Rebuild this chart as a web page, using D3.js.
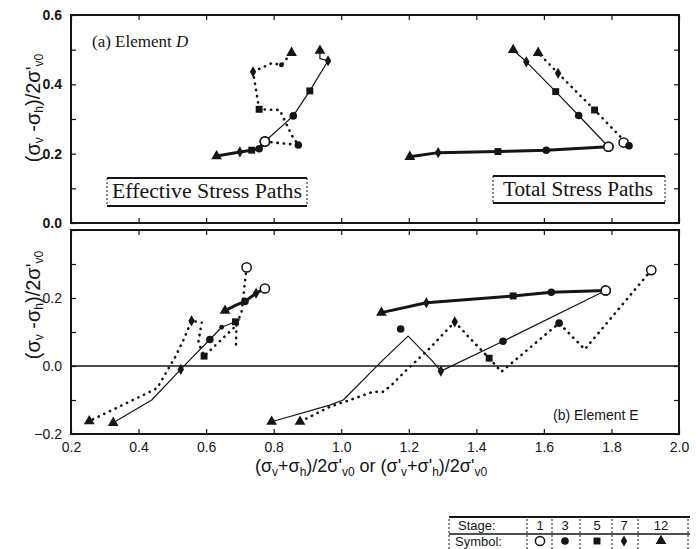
<!DOCTYPE html>
<html>
<head>
<meta charset="utf-8">
<script src="https://cdn.jsdelivr.net/npm/d3@7"></script>
<style>
  body { margin: 0; background: #fff; }
  svg text { fill: #151515; }
</style>
</head>
<body>
<div id="chart"></div>
<script>
// tick values and labels
var xTickLabels = [0.2, 0.4, 0.6, 0.8, 1.0, 1.2, 1.4, 1.6, 1.8, 2.0];
var topYLabels = [0.0, 0.2, 0.4, 0.6];
var botYLabels = [-0.2, 0.0, 0.2];
var legendStages = ["1", "3", "5", "7", "12"];
var legendSymbols = ["o", "c", "s", "d", "t"];

// (a) Element D - effective stress paths  [x, y, symbol]
var aEffThick = [[0.774, 0.235, "o"], [0.757, 0.214, "c"], [0.735, 0.210, "s"], [0.700, 0.205, "d"], [0.631, 0.193, "t"]];
var aEffThin = [[0.774, 0.235, "o"], [0.858, 0.309, "c"], [0.907, 0.381, "s"], [0.961, 0.468, "d"], [0.937, 0.474, null], [0.937, 0.497, "t"]];
var aEffDot = [[0.774, 0.235, "o"], [0.873, 0.225, "c"], [0.853, 0.254, null], [0.818, 0.326, null], [0.757, 0.328, "s"],
  [0.739, 0.436, "d"], [0.794, 0.461, null], [0.823, 0.456, "p"], [0.853, 0.491, "t"]];
// (a) Element D - total stress paths
var aTotThick = [[1.791, 0.220, "o"], [1.607, 0.210, "c"], [1.464, 0.206, "s"], [1.287, 0.203, "d"], [1.203, 0.191, "t"]];
var aTotThin = [[1.791, 0.220, "o"], [1.703, 0.310, "c"], [1.635, 0.379, "s"], [1.548, 0.465, "d"], [1.509, 0.499, "t"]];
var aTotDot = [[1.836, 0.232, "o"], [1.852, 0.223, "c"], [1.750, 0.326, "s"], [1.642, 0.432, "d"], [1.583, 0.491, "t"]];

// (b) Element E - effective stress paths
var bEffThick = [[0.774, 0.228, "o"], [0.748, 0.214, "d"], [0.715, 0.190, "c"], [0.690, 0.180, null], [0.656, 0.163, "t"]];
var bEffThin = [[0.700, 0.136, null], [0.687, 0.130, "s"], [0.646, 0.114, "p"], [0.611, 0.078, "c"], [0.552, 0.018, null],
  [0.525, -0.010, "d"], [0.439, -0.100, null], [0.325, -0.167, "t"]];
var bEffDot = [[0.720, 0.290, "o"], [0.705, 0.160, null], [0.690, 0.120, null], [0.594, 0.029, "s"], [0.577, 0.070, null],
  [0.587, 0.128, null], [0.557, 0.133, "d"], [0.530, 0.070, null], [0.508, 0.026, null], [0.455, -0.065, null],
  [0.425, -0.080, null], [0.254, -0.162, "t"]];
var bEffDot2 = [[0.690, 0.120, null], [0.688, 0.050, null]];
// (b) Element E - total stress paths
var bTotThick = [[1.783, 0.222, "o"], [1.622, 0.217, "c"], [1.509, 0.206, "s"], [1.252, 0.186, "d"], [1.119, 0.157, "t"]];
var bTotThin = [[1.783, 0.222, "o"], [1.479, 0.073, "c"], [1.295, -0.015, "d"], [1.267, 0.018, null], [1.198, 0.088, null],
  [1.124, 0.018, null], [1.006, -0.100, null], [0.966, -0.115, null], [0.794, -0.164, "t"]];
var bTotDot = [[1.918, 0.282, "o"], [1.721, 0.049, null], [1.645, 0.126, "c"], [1.474, -0.017, null], [1.438, 0.023, "s"],
  [1.386, 0.076, null], [1.336, 0.130, "d"], [1.262, 0.052, null], [1.188, -0.017, null], [1.149, -0.056, null],
  [1.124, -0.076, null], [1.094, -0.076, null], [1.040, -0.095, null], [0.966, -0.120, null], [0.878, -0.164, "t"]];
var bLoose = [[1.176, 0.109, "c"]];

var width = 696,
    height = 549;

var svg = d3.select("#chart").append("svg")
    .attr("width", width)
    .attr("height", height);

var x = d3.scaleLinear().domain([0.2, 2.0]).range([71, 679]);
var yTop = d3.scaleLinear().domain([0, 0.6]).range([223, 15]);
var yBot = d3.scaleLinear().domain([-0.2, 0.4]).range([434, 230]);

var ink = "#151515";
var sans = "'Liberation Sans', Arial, sans-serif";
var serif = "'Liberation Serif', 'Times New Roman', serif";

var xMinor = d3.range(0.2, 2.01, 0.2);
var yTopMinor = d3.range(0, 0.61, 0.1);
var yBotMinor = d3.range(-0.2, 0.41, 0.1);

function isLabel(v, list) {
    return list.some(function (d) { return Math.abs(d - v) < 1e-6; });
}

function frame(y, yMinor, yLabels, bold, showX) {
    var g = svg.append("g");
    var r = y.range();
    // inward ticks on all four sides
    g.append("g").attr("transform", "translate(" + x.range()[0] + ",0)")
        .call(d3.axisLeft(y).tickValues(yMinor).tickSize(-5).tickPadding(9)
            .tickFormat(function (d) { return isLabel(d, yLabels) ? d3.format(".1f")(d) : ""; }));
    g.append("g").attr("transform", "translate(" + x.range()[1] + ",0)")
        .call(d3.axisRight(y).tickValues(yMinor).tickSize(-5).tickFormat(""));
    g.append("g").attr("transform", "translate(0," + r[1] + ")")
        .call(d3.axisTop(x).tickValues(xMinor).tickSize(-5).tickFormat(""));
    g.append("g").attr("transform", "translate(0," + r[0] + ")")
        .call(d3.axisBottom(x).tickValues(showX ? xTickLabels : xMinor).tickSize(-5).tickPadding(8)
            .tickFormat(showX ? d3.format(".1f") : ""));
    g.selectAll(".domain").remove();
    g.selectAll(".tick line").attr("stroke", ink).attr("stroke-width", 1.2);
    g.selectAll(".tick text").attr("fill", ink)
        .style("font-family", sans)
        .style("font-size", "14px")
        .style("font-weight", bold ? "bold" : "normal");
    g.append("rect")
        .attr("x", x.range()[0]).attr("y", r[1])
        .attr("width", x.range()[1] - x.range()[0])
        .attr("height", r[0] - r[1])
        .attr("fill", "none").attr("stroke", ink).attr("stroke-width", 2);
    return g;
}

frame(yTop, yTopMinor, topYLabels, true, false);
frame(yBot, yBotMinor, botYLabels, false, true);

// zero line in panel (b)
svg.append("line")
    .attr("x1", x.range()[0]).attr("x2", x.range()[1])
    .attr("y1", yBot(0)).attr("y2", yBot(0))
    .attr("stroke", ink).attr("stroke-width", 1.6);

var styles = {
    thick: { w: 3, dash: null, cap: "round" },
    thin: { w: 1.2, dash: null, cap: "round" },
    dot: { w: 2.6, dash: "0.3,6", cap: "round" }
};

var series = [
    { pts: aEffThick, y: yTop, s: "thick" }, { pts: aEffThin, y: yTop, s: "thin" }, { pts: aEffDot, y: yTop, s: "dot" },
    { pts: aTotThick, y: yTop, s: "thick" }, { pts: aTotThin, y: yTop, s: "thin" }, { pts: aTotDot, y: yTop, s: "dot" },
    { pts: bEffThick, y: yBot, s: "thick" }, { pts: bEffThin, y: yBot, s: "thin" }, { pts: bEffDot, y: yBot, s: "dot" },
    { pts: bEffDot2, y: yBot, s: "dot" },
    { pts: bTotThick, y: yBot, s: "thick" }, { pts: bTotThin, y: yBot, s: "thin" }, { pts: bTotDot, y: yBot, s: "dot" }
];

var lineG = svg.append("g");
var markG = svg.append("g");

function marker(g, px, py, s) {
    if (s === "o") {
        g.append("circle").attr("cx", px).attr("cy", py).attr("r", 4.6)
            .attr("fill", "#fff").attr("stroke", ink).attr("stroke-width", 1.5);
    } else if (s === "c") {
        g.append("circle").attr("cx", px).attr("cy", py).attr("r", 3.8).attr("fill", ink);
    } else if (s === "p") {
        g.append("circle").attr("cx", px).attr("cy", py).attr("r", 2.4).attr("fill", ink);
    } else if (s) {
        var type = s === "s" ? d3.symbolSquare : s === "d" ? d3.symbolDiamond : d3.symbolTriangle;
        var size = s === "s" ? 48 : s === "d" ? 36 : 50;
        g.append("path")
            .attr("d", d3.symbol().type(type).size(size)())
            .attr("transform", "translate(" + px + "," + py + ")")
            .attr("fill", ink);
    }
}

series.forEach(function (se) {
    var st = styles[se.s];
    var line = d3.line()
        .x(function (d) { return x(d[0]); })
        .y(function (d) { return se.y(d[1]); });
    lineG.append("path")
        .attr("d", line(se.pts))
        .attr("fill", "none")
        .attr("stroke", ink)
        .attr("stroke-width", st.w)
        .attr("stroke-linecap", st.cap)
        .attr("stroke-linejoin", "round")
        .attr("stroke-dasharray", st.dash);
    se.pts.forEach(function (d) {
        marker(markG, x(d[0]), se.y(d[1]), d[2]);
    });
});

bLoose.forEach(function (d) {
    marker(markG, x(d[0]), yBot(d[1]), d[2]);
});

// panel titles
svg.append("text").attr("x", 92).attr("y", 47)
    .style("font-family", serif).style("font-size", "17px")
    .text("(a) Element ")
    .append("tspan").style("font-style", "italic").text("D");

svg.append("text").attr("x", 553).attr("y", 420)
    .style("font-family", sans).style("font-size", "14px")
    .text("(b) Element E");

// boxed labels
function boxLabel(x0, y0, w, h, label, tx, ty, len) {
    var g = svg.append("g");
    g.append("line").attr("x1", x0).attr("x2", x0 + w).attr("y1", y0).attr("y2", y0)
        .attr("stroke", ink).attr("stroke-width", 2);
    g.append("line").attr("x1", x0).attr("x2", x0 + w).attr("y1", y0 + h).attr("y2", y0 + h)
        .attr("stroke", ink).attr("stroke-width", 2);
    [x0, x0 + w].forEach(function (vx) {
        g.append("line").attr("x1", vx).attr("x2", vx).attr("y1", y0).attr("y2", y0 + h)
            .attr("stroke", ink).attr("stroke-width", 1).attr("stroke-dasharray", "2,2");
    });
    g.append("text").attr("x", tx).attr("y", ty)
        .attr("textLength", len).attr("lengthAdjust", "spacingAndGlyphs")
        .style("font-family", serif).style("font-size", "20px")
        .text(label);
}
boxLabel(107, 178, 200, 28, "Effective Stress Paths", 112, 198, 190);
boxLabel(493, 176, 172, 27, "Total Stress Paths", 503, 196, 150);

// y axis titles
function yTitle(cy) {
    var t = svg.append("text")
        .attr("transform", "translate(40," + cy + ") rotate(-90)")
        .attr("text-anchor", "middle")
        .style("font-family", sans).style("font-size", "20px");
    t.append("tspan").text("(\u03c3");
    t.append("tspan").attr("baseline-shift", "-25%").style("font-size", "12px").text("v");
    t.append("tspan").text(" -\u03c3");
    t.append("tspan").attr("baseline-shift", "-25%").style("font-size", "12px").text("h");
    t.append("tspan").text(")/2\u03c3'");
    t.append("tspan").attr("baseline-shift", "-25%").style("font-size", "12px").text("v0");
}
yTitle(108);
yTitle(305);

// x axis title
var xt = svg.append("text").attr("x", 371).attr("y", 472)
    .attr("text-anchor", "middle")
    .style("font-family", sans).style("font-size", "18px");
[["(\u03c3", 0], ["v", 1], ["+\u03c3", 0], ["h", 1], [")/2\u03c3'", 0], ["v0", 1],
 [" or (\u03c3'", 0], ["v", 1], ["+\u03c3'", 0], ["h", 1], [")/2\u03c3'", 0], ["v0", 1]].forEach(function (p) {
    var ts = xt.append("tspan").text(p[0]);
    if (p[1]) ts.attr("baseline-shift", "-30%").style("font-size", "12px");
});

// legend table
var lg = svg.append("g");
var colX = [540, 565, 597, 624, 661];
var sepX = [527, 552, 580, 612, 638, 688];
lg.append("line").attr("x1", 449).attr("x2", 690).attr("y1", 517).attr("y2", 517)
    .attr("stroke", ink).attr("stroke-width", 2);
lg.append("line").attr("x1", 449).attr("x2", 690).attr("y1", 534).attr("y2", 534)
    .attr("stroke", ink).attr("stroke-width", 1.6);
[449].concat(sepX).forEach(function (vx) {
    lg.append("line").attr("x1", vx).attr("x2", vx).attr("y1", 519).attr("y2", 549)
        .attr("stroke", ink).attr("stroke-width", 1).attr("stroke-dasharray", "2,2");
});
lg.append("text").attr("x", 458).attr("y", 530)
    .style("font-family", sans).style("font-size", "13px").text("Stage:");
lg.append("text").attr("x", 455).attr("y", 546)
    .style("font-family", sans).style("font-size", "13px").text("Symbol:");
legendStages.forEach(function (s, i) {
    lg.append("text").attr("x", colX[i]).attr("y", 530).attr("text-anchor", "middle")
        .style("font-family", sans).style("font-size", "13px").text(s);
    marker(lg, colX[i], 541, legendSymbols[i]);
});
</script>
</body>
</html>
